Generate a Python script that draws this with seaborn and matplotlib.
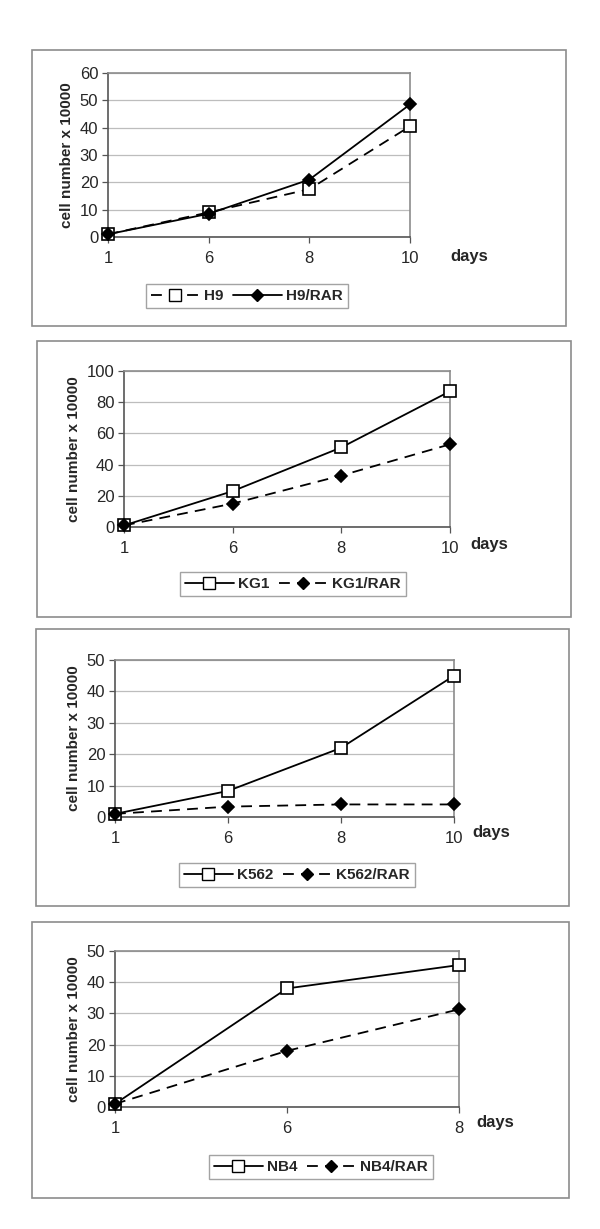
import seaborn as sns
import matplotlib.pyplot as plt
from matplotlib.lines import Line2D
from matplotlib.patches import Rectangle

# data
days_a = ["1", "6", "8", "10"]
days_b = ["1", "6", "8"]

h9 = [1, 9, 17.5, 40.5]
h9_rar = [1, 8.5, 21, 48.5]
kg1 = [1, 23, 51, 87]
kg1_rar = [1, 15, 33, 53]
k562 = [1, 8.3, 22, 45]
k562_rar = [1, 3.3, 4, 4]
nb4 = [1, 38, 45.5]
nb4_rar = [1, 18, 31.3]

W, H = 600, 1229
DASH = (0, (6, 4))
sns.set_theme(style="white")
plt.rcParams["font.family"] = ["Liberation Sans", "DejaVu Sans"]

fig = plt.figure(figsize=(W / 100, H / 100), dpi=100)


def px_rect(x0, y0, x1, y1):
    return [x0 / W, 1 - y1 / H, (x1 - x0) / W, (y1 - y0) / H]


def panel(frame, area, legend_c, days_xy, cats, s1, s2, names, ymax, ystep, solid_first):
    fx0, fy0, fx1, fy1 = frame
    fig.patches.append(Rectangle((fx0 / W, 1 - fy1 / H), (fx1 - fx0) / W, (fy1 - fy0) / H,
                                 transform=fig.transFigure, fill=False,
                                 edgecolor="#8c8c8c", lw=1.2))
    ax = fig.add_axes(px_rect(*area))
    idx = list(range(len(cats)))
    st1 = "-" if solid_first else DASH
    st2 = DASH if solid_first else "-"
    for vals, mk, ms, fc, ls in [(s1, "s", 8, "white", st1), (s2, "D", 6, "black", st2)]:
        sns.lineplot(x=idx, y=vals, ax=ax, color="black", lw=1.3, marker=mk, markersize=ms,
                     markerfacecolor=fc, markeredgecolor="black", markeredgewidth=1.2,
                     linestyle=ls, zorder=3, clip_on=False)
    ax.set_xlim(0, len(cats) - 1)
    ax.set_ylim(0, ymax)
    ax.set_xticks(idx, labels=cats)
    ax.set_yticks(range(0, ymax + 1, ystep))
    ax.yaxis.grid(True, color="#bdbdbd", lw=0.9)
    ax.set_axisbelow(True)
    for sp in ax.spines.values():
        sp.set_color("#8c8c8c")
        sp.set_linewidth(1.2)
    ax.spines["left"].set_color("#555555")
    ax.spines["bottom"].set_color("#555555")
    ax.tick_params(axis="both", which="both", labelsize=12, length=4, width=0.9,
                   color="#555555", direction="out", pad=3, left=True, bottom=True)
    ax.tick_params(axis="x", pad=6)
    ax.set_ylabel("cell number x 10000", fontsize=11, fontweight="bold", labelpad=4)
    ax.set_xlabel("")
    fig.text(days_xy[0] / W, 1 - days_xy[1] / H, "days", fontsize=12, fontweight="bold",
             ha="center", va="center")

    handles = [
        Line2D([], [], color="black", lw=1.3, ls=st1,
               marker="s", markersize=8, markerfacecolor="white", markeredgecolor="black"),
        Line2D([], [], color="black", lw=1.3, ls=st2,
               marker="D", markersize=6, markerfacecolor="black", markeredgecolor="black"),
    ]
    leg = fig.legend(handles, names, loc="center", ncol=2,
                     bbox_to_anchor=(legend_c[0] / W, 1 - legend_c[1] / H),
                     frameon=True, fancybox=False, handlelength=3.2, handletextpad=0.3,
                     columnspacing=0.6, borderpad=0.3, prop={"weight": "bold", "size": 11})
    leg.get_frame().set_edgecolor("#8c8c8c")
    leg.get_frame().set_linewidth(1.0)
    return ax


panel((32, 50, 566, 326), (108, 73, 410, 237), (247, 296), (469, 256),
      days_a, h9, h9_rar, ["H9", "H9/RAR"], 60, 10, solid_first=False)
panel((37, 341, 571, 617), (124, 371, 450, 527), (293, 584), (489, 544),
      days_a, kg1, kg1_rar, ["KG1", "KG1/RAR"], 100, 20, solid_first=True)
panel((36, 629, 569, 906), (115, 660, 454, 817), (297, 875), (491, 832),
      days_a, k562, k562_rar, ["K562", "K562/RAR"], 50, 10, solid_first=True)
panel((32, 922, 569, 1198), (115, 951, 459, 1107), (321, 1167), (495, 1123),
      days_b, nb4, nb4_rar, ["NB4", "NB4/RAR"], 50, 10, solid_first=True)

fig.savefig("out.png", dpi=100)
